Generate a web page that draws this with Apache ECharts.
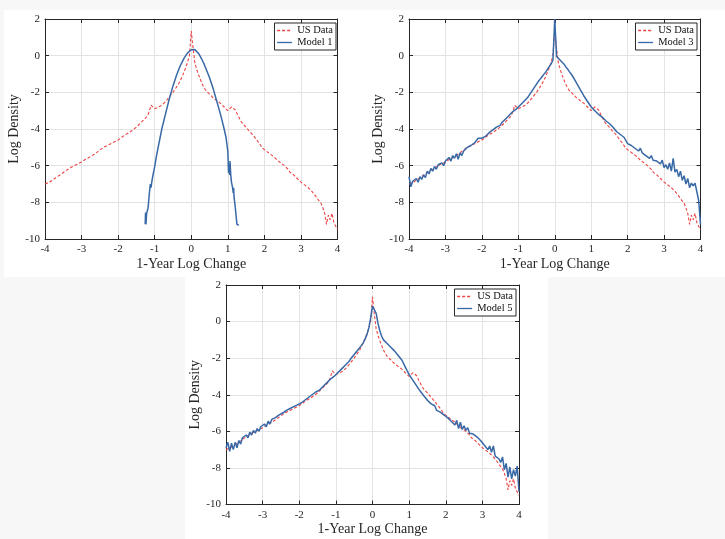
<!DOCTYPE html>
<html>
<head>
<meta charset="utf-8">
<script src="https://cdn.jsdelivr.net/npm/echarts@6/dist/echarts.min.js"></script>
<style>
  html, body { margin: 0; padding: 0; background: #f7f7f7; }
  #chart { width: 725px; height: 539px; }
</style>
</head>
<body>
<div id="chart"></div>
<script>
// Bin centres shared by the empirical density and models 3 and 5
const binX = [
  -4,-3.95,-3.9,-3.85,-3.8,-3.75,-3.7,-3.65,-3.6,-3.55,-3.5,-3.45,-3.4,-3.35,-3.3,-3.25,-3.2,-3.15,-3.1,-3.05,
  -3,-2.95,-2.9,-2.85,-2.8,-2.75,-2.7,-2.65,-2.6,-2.55,-2.5,-2.45,-2.4,-2.35,-2.3,-2.25,-2.2,-2.15,-2.1,-2.05,
  -2,-1.95,-1.9,-1.85,-1.8,-1.75,-1.7,-1.65,-1.6,-1.55,-1.5,-1.45,-1.4,-1.35,-1.3,-1.25,-1.2,-1.15,-1.1,-1.05,
  -1,-0.95,-0.9,-0.85,-0.8,-0.75,-0.7,-0.65,-0.6,-0.55,-0.5,-0.45,-0.4,-0.35,-0.3,-0.25,-0.2,-0.15,-0.1,-0.05,
  0,0.05,0.1,0.15,0.2,0.25,0.3,0.35,0.4,0.45,0.5,0.55,0.6,0.65,0.7,0.75,0.8,0.85,0.9,0.95,
  1,1.05,1.1,1.15,1.2,1.25,1.3,1.35,1.4,1.45,1.5,1.55,1.6,1.65,1.7,1.75,1.8,1.85,1.9,1.95,
  2,2.05,2.1,2.15,2.2,2.25,2.3,2.35,2.4,2.45,2.5,2.55,2.6,2.65,2.7,2.75,2.8,2.85,2.9,2.95,
  3,3.05,3.1,3.15,3.2,3.25,3.3,3.35,3.4,3.45,3.5,3.55,3.6,3.65,3.7,3.75,3.8,3.85,3.9,3.95,
  4
];

// US data: log density of 1-year log changes
const usData = [
  -7.0,-6.95,-6.92,-6.83,-6.8,-6.72,-6.65,-6.6,-6.52,-6.44,-6.37,-6.3,-6.24,-6.16,-6.1,-6.06,-6.0,-5.93,-5.9,-5.84,
  -5.8,-5.7,-5.66,-5.6,-5.56,-5.5,-5.44,-5.4,-5.3,-5.24,-5.15,-5.06,-5.0,-4.96,-4.9,-4.84,-4.8,-4.74,-4.7,-4.64,
  -4.6,-4.52,-4.45,-4.4,-4.3,-4.26,-4.2,-4.1,-4.05,-3.96,-3.9,-3.8,-3.7,-3.6,-3.5,-3.4,-3.3,-3.05,-2.7,-2.8,
  -2.9,-2.85,-2.8,-2.75,-2.7,-2.6,-2.5,-2.4,-2.25,-2.15,-2.0,-1.85,-1.7,-1.55,-1.35,-1.15,-0.9,-0.65,-0.35,0.0,
  1.35,0.4,-0.4,-0.75,-1.05,-1.3,-1.55,-1.75,-1.9,-2.0,-2.1,-2.2,-2.3,-2.4,-2.45,-2.55,-2.6,-2.7,-2.8,-2.9,
  -3.0,-2.95,-2.8,-2.85,-2.95,-3.15,-3.35,-3.55,-3.7,-3.8,-3.9,-4.0,-4.15,-4.25,-4.35,-4.5,-4.6,-4.75,-4.9,-5.05,
  -5.15,-5.2,-5.3,-5.35,-5.45,-5.5,-5.6,-5.7,-5.75,-5.85,-5.9,-6.0,-6.1,-6.2,-6.35,-6.4,-6.5,-6.6,-6.7,-6.8,
  -6.9,-6.95,-7.05,-7.15,-7.2,-7.3,-7.4,-7.5,-7.65,-7.8,-7.9,-8.05,-8.3,-8.6,-9.2,-8.7,-8.95,-8.6,-9.1,-9.3,
  -9.5
];

// Model 1: narrow Gaussian-like density
const model1X = [
  -1.26,-1.25,-1.24,-1.22,-1.18,-1.15,-1.12,-1.1,-1.08,-1.05,-1.0,-0.95,-0.9,-0.85,-0.8,-0.75,-0.7,-0.65,-0.6,-0.55,
  -0.5,-0.45,-0.4,-0.35,-0.3,-0.25,-0.2,-0.15,-0.1,-0.05,0,0.05,0.1,0.15,0.2,0.25,0.3,0.35,0.4,0.45,
  0.5,0.55,0.6,0.65,0.7,0.75,0.8,0.85,0.9,0.95,0.98,1.0,1.02,1.03,1.05,1.06,1.08,1.1,1.13,1.15,
  1.16,1.17,1.2,1.23,1.25,1.3
];
const model1Y = [
  -9.2,-8.55,-9.2,-8.6,-8.3,-7.6,-7.0,-7.2,-6.9,-6.55,-6.05,-5.45,-4.95,-4.45,-3.95,-3.55,-3.15,-2.75,-2.35,-2.0,
  -1.65,-1.35,-1.05,-0.8,-0.55,-0.35,-0.15,0.0,0.15,0.25,0.32,0.35,0.33,0.25,0.12,-0.05,-0.25,-0.45,-0.7,-0.95,
  -1.2,-1.5,-1.8,-2.15,-2.5,-2.85,-3.2,-3.6,-4.0,-4.45,-4.9,-5.2,-6.4,-5.9,-6.5,-5.75,-6.5,-6.9,-7.2,-7.5,
  -7.2,-7.7,-8.2,-8.8,-9.2,-9.25
];

// Model 3
const model3 = [
  -6.6,-7.15,-6.85,-6.95,-6.7,-6.9,-6.6,-6.75,-6.5,-6.65,-6.3,-6.45,-6.15,-6.3,-6.05,-6.2,-5.95,-6.05,-5.85,-6.0,
  -5.75,-5.85,-5.55,-5.75,-5.45,-5.6,-5.35,-5.65,-5.3,-5.45,-5.2,-5.3,-5.0,-5.1,-4.9,-4.95,-4.75,-4.8,-4.5,-4.6,
  -4.5,-4.45,-4.4,-4.35,-4.2,-4.2,-4.05,-4.0,-3.9,-3.85,-3.8,-3.65,-3.6,-3.45,-3.4,-3.25,-3.15,-3.05,-3.0,-2.9,
  -2.85,-2.7,-2.65,-2.5,-2.4,-2.3,-2.15,-2.0,-1.85,-1.7,-1.55,-1.4,-1.28,-1.15,-1.02,-0.9,-0.75,-0.6,-0.45,-0.25,
  2.0,-0.05,-0.15,-0.25,-0.35,-0.45,-0.6,-0.72,-0.87,-1.0,-1.15,-1.32,-1.5,-1.67,-1.85,-2.02,-2.2,-2.35,-2.5,-2.65,
  -2.8,-2.9,-3.0,-3.1,-3.2,-3.3,-3.35,-3.45,-3.55,-3.6,-3.7,-3.75,-3.9,-3.95,-4.15,-4.2,-4.3,-4.35,-4.45,-4.55,
  -4.8,-4.85,-4.9,-4.95,-5.05,-5.0,-5.2,-5.05,-5.3,-5.25,-5.45,-5.35,-5.6,-5.45,-5.7,-5.6,-5.75,-5.65,-5.9,-5.7,
  -6.1,-5.95,-6.2,-5.85,-6.3,-5.6,-6.35,-6.2,-6.6,-6.3,-6.8,-6.55,-7.0,-6.7,-7.2,-6.95,-7.1,-6.95,-6.9,-7.9,
  -9.2
];

// Model 5
const model5 = [
  -6.9,-6.6,-7.1,-6.65,-7.0,-6.6,-6.9,-6.5,-6.7,-6.35,-6.45,-6.2,-6.35,-6.05,-6.2,-5.95,-6.1,-5.85,-6.0,-5.75,
  -5.85,-5.6,-5.75,-5.45,-5.6,-5.35,-5.45,-5.25,-5.35,-5.1,-5.15,-5.0,-5.1,-4.85,-4.95,-4.75,-4.8,-4.65,-4.7,-4.55,
  -4.6,-4.45,-4.4,-4.3,-4.25,-4.15,-4.1,-4.0,-3.95,-3.85,-3.8,-3.75,-3.65,-3.55,-3.45,-3.35,-3.25,-3.15,-3.05,-3.0,
  -2.9,-2.8,-2.7,-2.6,-2.5,-2.4,-2.3,-2.2,-2.05,-1.95,-1.8,-1.7,-1.55,-1.45,-1.3,-1.15,-0.95,-0.7,-0.35,0.2,
  0.85,0.92,0.45,-0.1,-0.5,-0.8,-1.0,-1.1,-1.2,-1.3,-1.4,-1.5,-1.6,-1.7,-1.85,-1.95,-2.1,-2.3,-2.5,-2.7,
  -2.9,-3.05,-3.2,-3.35,-3.5,-3.65,-3.8,-3.9,-4.05,-4.15,-4.3,-4.35,-4.5,-4.55,-4.6,-4.85,-4.8,-4.95,-4.9,-5.1,
  -5.15,-5.25,-5.3,-5.45,-5.4,-5.65,-5.4,-5.85,-5.5,-5.9,-5.7,-5.95,-5.8,-6.1,-6.0,-6.15,-6.2,-6.3,-6.35,-6.5,
  -6.55,-6.75,-6.85,-7.0,-6.8,-7.15,-6.8,-7.35,-7.45,-7.5,-7.7,-7.4,-8.1,-7.75,-8.5,-7.95,-8.6,-8.1,-8.45,-7.9,
  -9.3
];

const xTicks = [-4, 4, 1];   // min, max, interval
const yTicks = [-10, 2, 2];
const modelNames = ['Model 1', 'Model 3', 'Model 5'];
const xTitle = '1-Year Log Change';
const yTitle = 'Log Density';

const FONT = '"Liberation Serif", "Times New Roman", serif';
const INK = '#262626';
const RED = '#ee4444';
const BLUE = '#3868a6';

const pairs = (xs, ys) => xs.map((x, i) => [x, ys[i]]);

const grids = [
  { left: 45, top: 19, width: 292.5, height: 220 },
  { left: 409, top: 19, width: 291.5, height: 220 },
  { left: 226, top: 285, width: 293, height: 219.5 }
];
const legendPos = [
  { right: 389, top: 23 },
  { right: 28, top: 23 },
  { right: 209, top: 289 }
];

const xAxes = [], yAxes = [], series = [], legends = [];
grids.forEach((g, i) => {
  xAxes.push({
    type: 'value', gridIndex: i, min: xTicks[0], max: xTicks[1], interval: xTicks[2],
    name: xTitle, nameLocation: 'middle', nameGap: 18,
    nameTextStyle: { fontFamily: FONT, fontSize: 14, color: INK },
    axisLine: { show: true, onZero: false, lineStyle: { color: INK, width: 1 } },
    axisTick: { show: true, inside: true, length: 4, lineStyle: { color: INK } },
    axisLabel: { fontFamily: FONT, fontSize: 11, color: INK, margin: 5 },
    splitLine: { show: true, lineStyle: { color: '#e3e3e3', width: 1 } }
  });
  // mirrored top axis for the box ticks
  xAxes.push({
    type: 'value', gridIndex: i, position: 'top', min: xTicks[0], max: xTicks[1], interval: xTicks[2],
    axisLine: { show: true, onZero: false, lineStyle: { color: INK, width: 1 } },
    axisTick: { show: true, inside: true, length: 4, lineStyle: { color: INK } },
    axisLabel: { show: false }, splitLine: { show: false }
  });
  yAxes.push({
    type: 'value', gridIndex: i, min: yTicks[0], max: yTicks[1], interval: yTicks[2],
    name: yTitle, nameLocation: 'middle', nameGap: 22,
    nameTextStyle: { fontFamily: FONT, fontSize: 14, color: INK },
    axisLine: { show: true, onZero: false, lineStyle: { color: INK, width: 1 } },
    axisTick: { show: true, inside: true, length: 4, lineStyle: { color: INK } },
    axisLabel: { fontFamily: FONT, fontSize: 11, color: INK, margin: 5 },
    splitLine: { show: true, lineStyle: { color: '#e3e3e3', width: 1 } }
  });
  // mirrored right axis for the box ticks
  yAxes.push({
    type: 'value', gridIndex: i, position: 'right', min: yTicks[0], max: yTicks[1], interval: yTicks[2],
    axisLine: { show: true, onZero: false, lineStyle: { color: INK, width: 1 } },
    axisTick: { show: true, inside: true, length: 4, lineStyle: { color: INK } },
    axisLabel: { show: false }, splitLine: { show: false }
  });

  series.push({
    name: 'US Data', type: 'line', xAxisIndex: 2 * i, yAxisIndex: 2 * i,
    data: pairs(binX, usData), showSymbol: false, symbol: 'none', legendIcon: 'none',
    lineStyle: { color: RED, width: 1.1, type: [3, 2] }, itemStyle: { color: RED },
    animation: false, z: 3
  });
  const mx = i === 0 ? model1X : binX;
  const my = i === 0 ? model1Y : (i === 1 ? model3 : model5);
  series.push({
    name: modelNames[i], type: 'line', xAxisIndex: 2 * i, yAxisIndex: 2 * i,
    data: pairs(mx, my), showSymbol: false, symbol: 'none', legendIcon: 'none',
    lineStyle: { color: BLUE, width: 1.5 }, itemStyle: { color: BLUE },
    animation: false, z: 4
  });

  legends.push(Object.assign({
    orient: 'vertical', data: ['US Data', modelNames[i]],
    backgroundColor: '#ffffff', borderColor: INK, borderWidth: 1,
    padding: [2, 3, 2, 2], itemGap: 1, itemWidth: 15, itemHeight: 8,
    selectedMode: false,
    itemStyle: { opacity: 0, borderWidth: 0 },
    lineStyle: { width: 1.3 },
    textStyle: { fontFamily: FONT, fontSize: 10.5, color: '#111' }
  }, legendPos[i]));
});

const chart = echarts.init(document.getElementById('chart'), null, { renderer: 'canvas' });
chart.setOption({
  backgroundColor: '#f7f7f7',
  animation: false,
  graphic: [
    { type: 'rect', z: -10, silent: true, shape: { x: 4, y: 10, width: 721, height: 267 }, style: { fill: '#ffffff' } },
    { type: 'rect', z: -10, silent: true, shape: { x: 185, y: 277, width: 363, height: 262 }, style: { fill: '#ffffff' } }
  ],
  grid: grids.map(g => Object.assign({ show: false, containLabel: false }, g)),
  xAxis: xAxes,
  yAxis: yAxes,
  legend: legends,
  series: series
});
</script>
</body>
</html>
